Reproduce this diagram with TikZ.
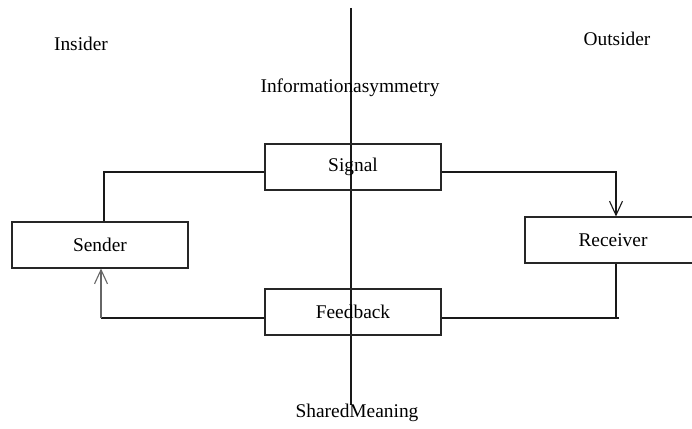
\documentclass[tikz,border=0pt]{standalone}
\usepackage{fontspec}
\setmainfont{Liberation Serif}
\usetikzlibrary{arrows.meta}
\begin{document}
\begin{tikzpicture}[x=1pt,y=-1pt,
  every node/.style={font=\fontsize{19.4}{23}\selectfont},
  box/.style={draw=black!85, line width=1.1pt, minimum width=176pt, minimum height=46pt, inner sep=0pt},
  label/.style={inner sep=0pt},
  conn/.style={draw=black!90, line width=1.1pt},
  tip/.style={-{Straight Barb[length=14pt,width=13pt,line width=1.1pt]}}]
\useasboundingbox (0,0) rectangle (692,428);
\fill[white] (0,0) rectangle (692,428);
% divider
\coordinate (vtop) at (351,8);
\coordinate (vbot) at (351,405);
\draw[conn] (vtop) -- (vbot);
% labels
\node[label] (insider) at (81,44) {Insider};
\node[label] (outsider) at (617,39) {Outsider};
\node[label] (asym) at (350,88) {Informationasymmetry};
\node[label] (shared) at (357,413) {SharedMeaning};
% boxes
\node[box] (signal) at (353,167) {Signal};
\node[box] (feedback) at (353,312) {Feedback};
\node[box] (sender) at (100,245) {Sender};
\node[box] (receiver) at (613,240) {Receiver};
% signal path
\coordinate (sl) at (104,172);
\coordinate (sr) at (616,172);
\draw[conn] (sender.north -| sl) -- (sl) -- (signal.west |- sl);
\draw[conn,tip] (signal.east |- sr) -- (sr) -- (receiver.north -| sr);
% feedback path
\coordinate (rb) at (619,318);
\draw[conn] (receiver.south -| 616,0) -- (616,318);
\draw[conn] (rb) -- (feedback.east |- rb);
\coordinate (lb) at (101,318);
\draw[conn] (feedback.west |- lb) -- (lb);
\draw[conn,draw=black!60,tip] (lb) -- (sender.south -| lb);
\end{tikzpicture}
\end{document}
